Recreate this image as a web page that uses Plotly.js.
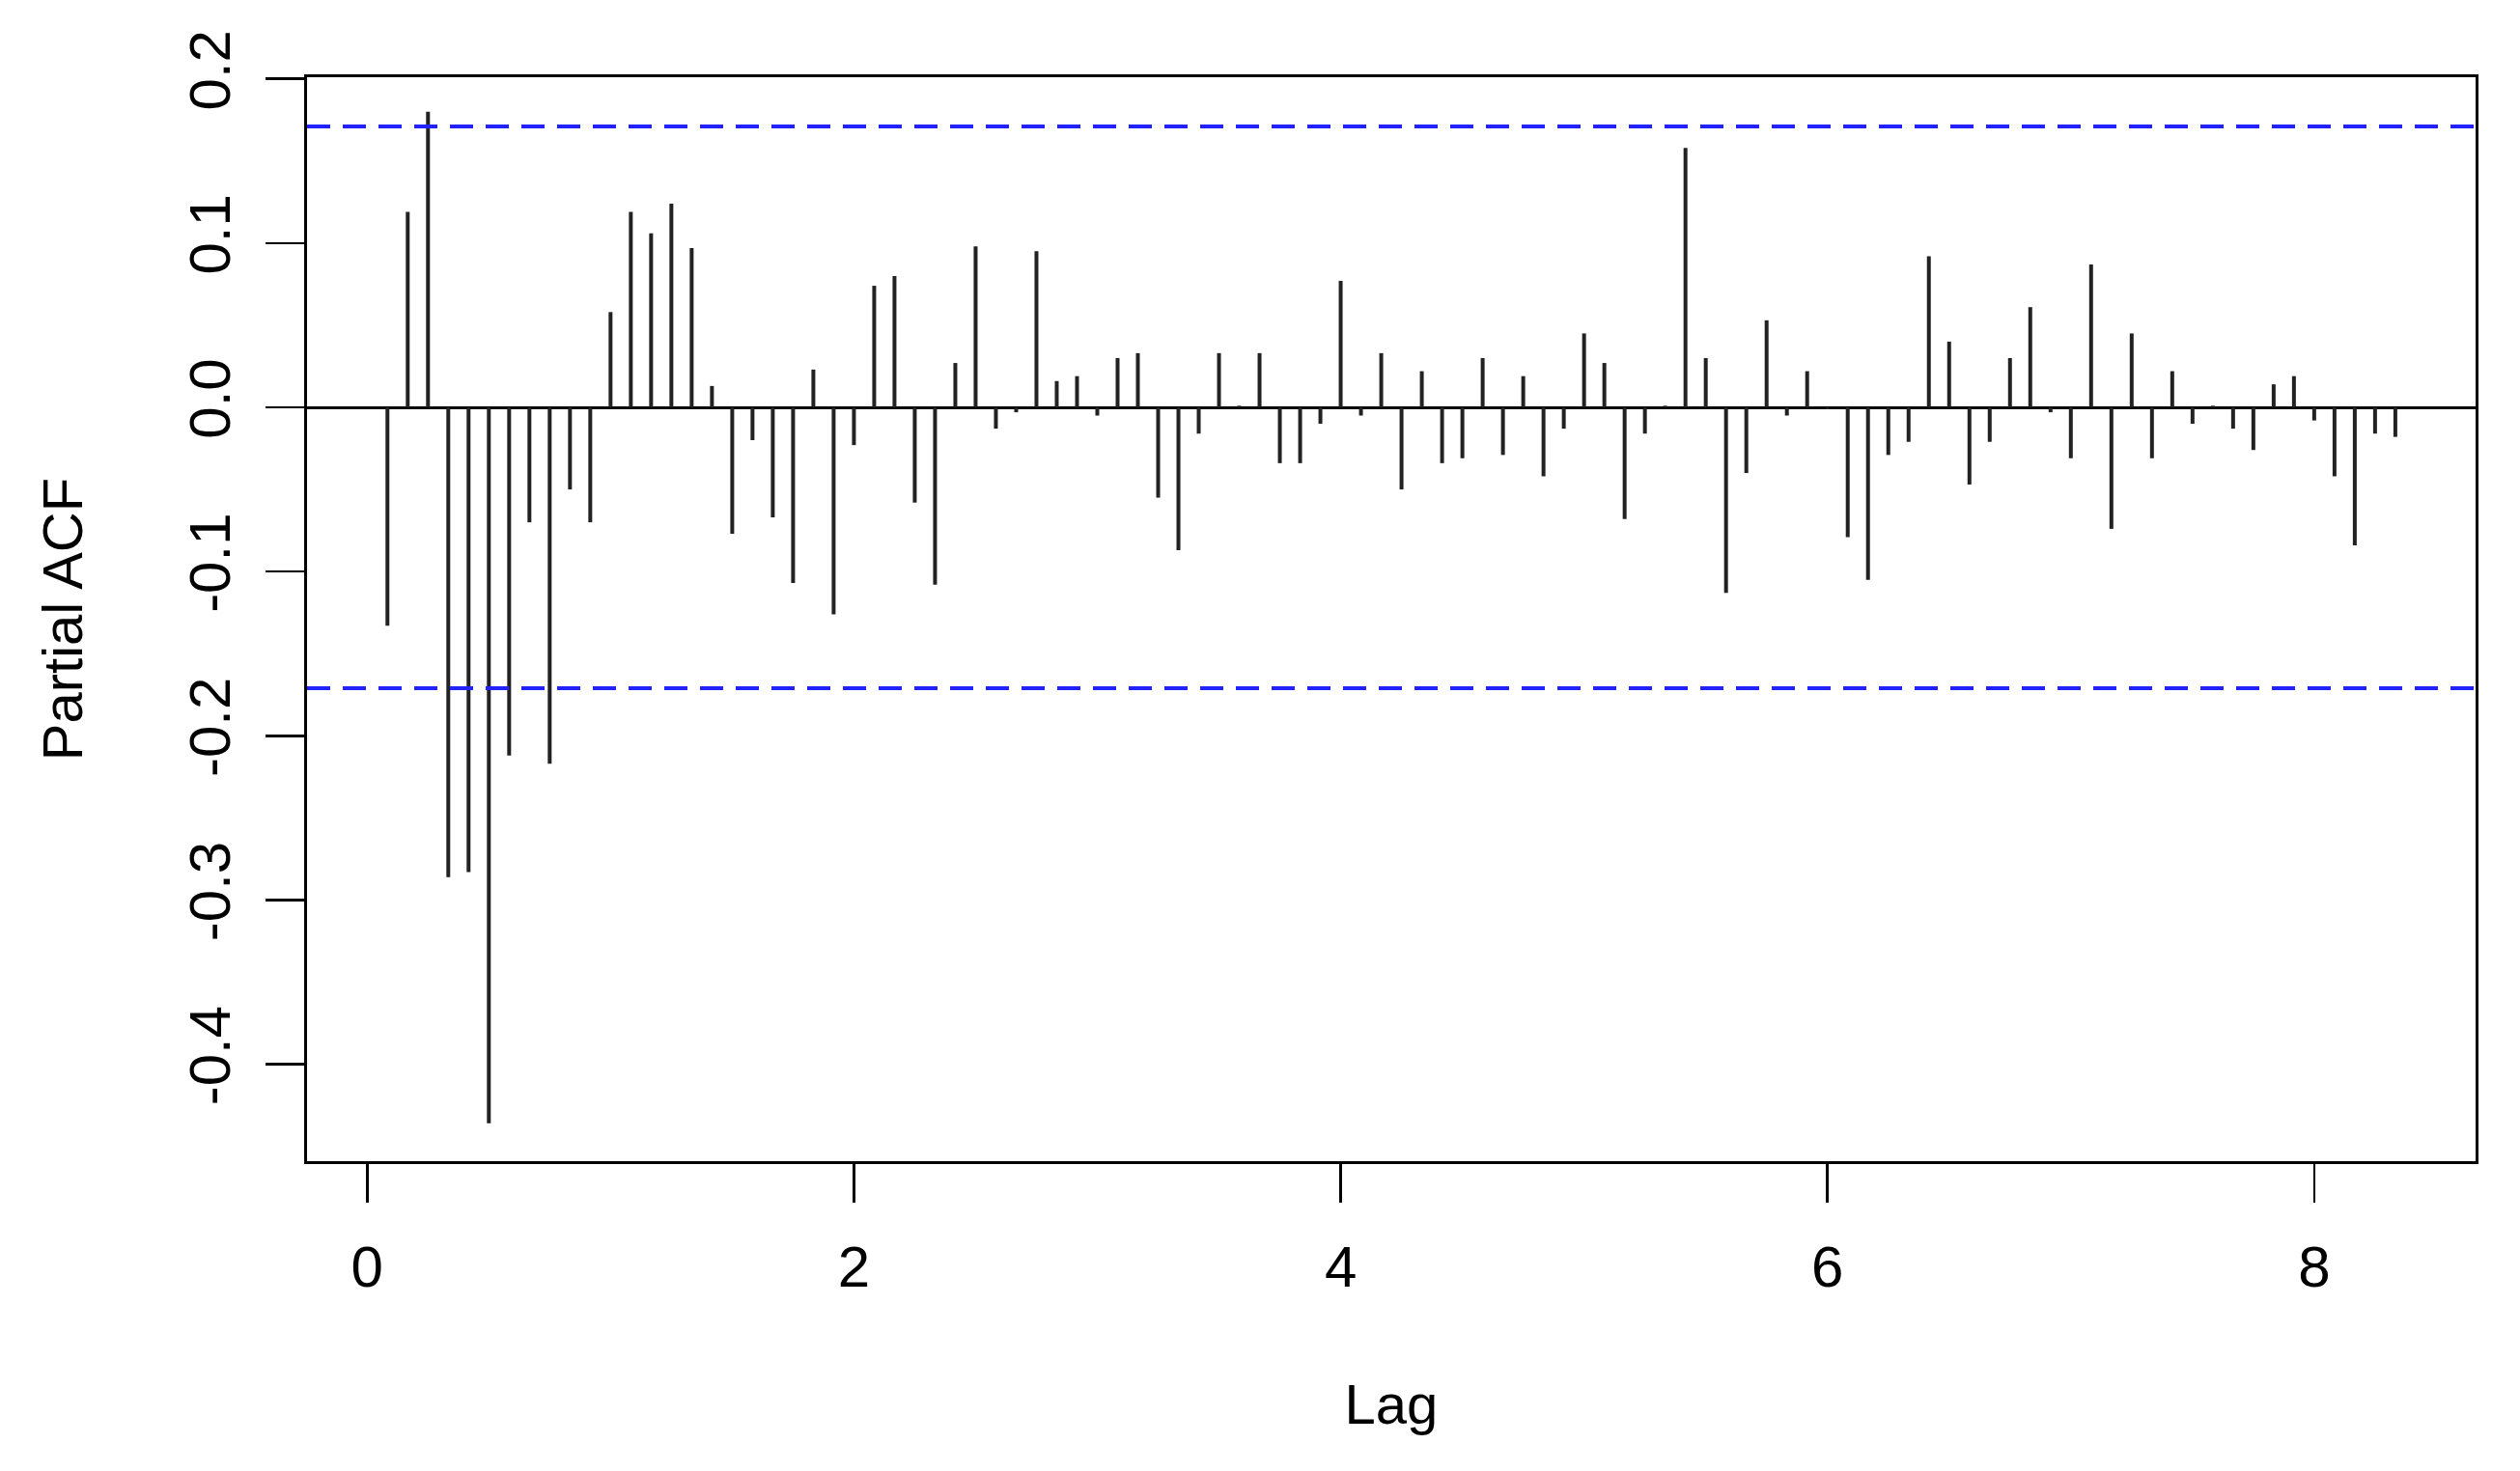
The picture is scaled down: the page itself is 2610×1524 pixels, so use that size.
<!DOCTYPE html>
<html>
<head>
<meta charset="utf-8">
<script src="https://cdn.plot.ly/plotly-3.0.1.min.js"></script>
<style>
  body { margin: 0; background: #fff; }
  #graph { width: 2610px; height: 1524px; }
</style>
</head>
<body>
<div id="graph"></div>
<script>
// partial autocorrelations, lags 1..100 (monthly series, frequency 12)
var freq = 12;
var pacf = [
  -0.133, 0.119, 0.180, -0.286, -0.283, -0.436, -0.212, -0.070, -0.217, -0.050, -0.070, 0.058,
  0.119, 0.106, 0.124, 0.097, 0.013, -0.077, -0.020, -0.067, -0.107, 0.023, -0.126, -0.023,
  0.074, 0.080, -0.058, -0.108, 0.027, 0.098, -0.013, -0.003, 0.095, 0.016, 0.019, -0.005,
  0.030, 0.033, -0.055, -0.087, -0.016, 0.033, 0.001, 0.033, -0.034, -0.034, -0.010, 0.077,
  -0.005, 0.033, -0.050, 0.022, -0.034, -0.031, 0.030, -0.029, 0.019, -0.042, -0.013, 0.045,
  0.027, -0.068, -0.016, 0.001, 0.158, 0.030, -0.113, -0.040, 0.053, -0.005, 0.022, -0.001,
  -0.079, -0.105, -0.029, -0.021, 0.092, 0.040, -0.047, -0.021, 0.030, 0.061, -0.003, -0.031,
  0.087, -0.074, 0.045, -0.031, 0.022, -0.010, 0.001, -0.013, -0.026, 0.014, 0.019, -0.008,
  -0.042, -0.084, -0.016, -0.018
];
var clim = 0.171; // 95% bound
var xTicks = [0, 2, 4, 6, 8];
var yTicks = [-0.4, -0.3, -0.2, -0.1, 0.0, 0.1, 0.2];
var yTickText = ["-0.4", "-0.3", "-0.2", "-0.1", "0.0", "0.1", "0.2"];

var fnt = "Liberation Sans, Arial, sans-serif";

// vertical spikes, one segment per lag
var segX = [];
var segY = [];
for (var i = 0; i < pacf.length; i++) {
    var lag = (i + 1) / freq;
    segX.push(lag, lag, null);
    segY.push(0, pacf[i], null);
}

function drawGraph() {
    var spikes = {
        x: segX,
        y: segY,
        type: 'scatter',
        mode: 'lines',
        line: { color: '#222222', width: 4 },
        hoverinfo: 'skip',
        showlegend: false
    };
    var data = [spikes];
    var layout = {
        width: 2610,
        height: 1524,
        paper_bgcolor: '#ffffff',
        plot_bgcolor: '#ffffff',
        margin: { l: 318, r: 46, t: 80, b: 321 },
        font: { family: fnt, size: 60, color: '#000000' },
        showlegend: false,
        xaxis: {
            range: [-0.247, 8.663],
            tickvals: xTicks,
            ticktext: xTicks.map(String),
            ticks: 'outside',
            ticklen: 40,
            tickwidth: 2.5,
            tickcolor: '#000',
            ticklabelstandoff: 15,
            showgrid: false,
            zeroline: false,
            showline: true,
            mirror: true,
            linecolor: '#000',
            linewidth: 3,
            title: { text: 'Lag', font: { family: fnt, size: 58 }, standoff: 90 }
        },
        yaxis: {
            range: [-0.459, 0.201],
            tickvals: yTicks,
            ticktext: yTickText,
            tickangle: -90,
            ticks: 'outside',
            ticklen: 40,
            tickwidth: 2.5,
            tickcolor: '#000',
            ticklabelstandoff: 13,
            showgrid: false,
            zeroline: true,
            zerolinecolor: '#000',
            zerolinewidth: 3,
            showline: true,
            mirror: true,
            linecolor: '#000',
            linewidth: 3,
            title: { text: 'Partial ACF', font: { family: fnt, size: 58 }, standoff: 80 }
        },
        shapes: [clim, -clim].map(function (v) {
            return {
                type: 'line', xref: 'paper', yref: 'y',
                x0: 0, x1: 1, y0: v, y1: v,
                line: { color: '#2222ff', width: 4, dash: '24px,13px' }
            };
        })
    };
    Plotly.newPlot("graph", data, layout, { staticPlot: true });
}
drawGraph();
</script>
</body>
</html>
